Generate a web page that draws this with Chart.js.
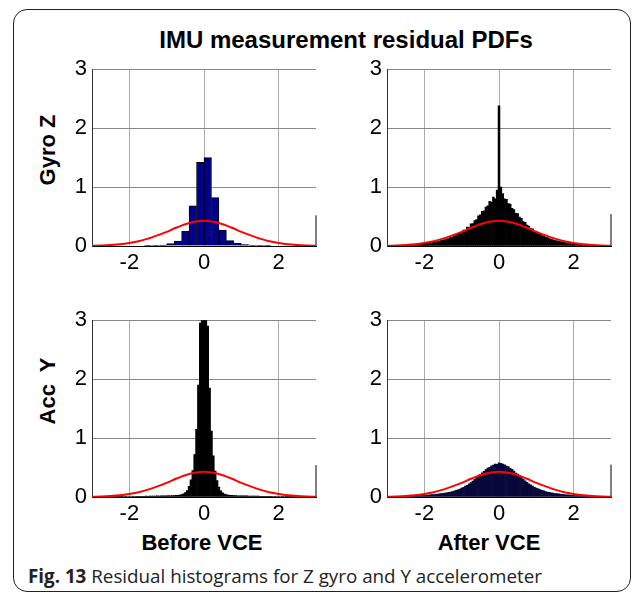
<!DOCTYPE html>
<html>
<head>
<meta charset="utf-8">
<script src="https://cdn.jsdelivr.net/npm/chart.js@4.4.1/dist/chart.umd.min.js"></script>
<style>
  html, body { margin: 0; padding: 0; background: #fff; }
  #page { position: relative; width: 637px; height: 594px; overflow: hidden; font-family: 'Liberation Sans', Arial, sans-serif; }
  #frame { position: absolute; left: 13px; top: 9px; width: 616px; height: 581px; border: 1.5px solid #222; border-radius: 14px; }
  canvas { position: absolute; }
  .lbl { position: absolute; white-space: pre; font-weight: bold; color: #000; transform: translate(-50%, -50%); }
  .ylbl { transform: translate(-50%, -50%) rotate(-90deg); }
  #caption { position: absolute; left: 28px; top: 563px; font-family: 'Open Sans', sans-serif; font-size: 18.8px; color: #222; white-space: pre; }
</style>
</head>
<body>
<div id="page">
  <div id="frame"></div>
  <div class="lbl" style="left:346px;top:40px;font-size:24px">IMU measurement residual PDFs</div>
  <div class="lbl ylbl" style="left:48px;top:150px;font-size:22px">Gyro Z</div>
  <div class="lbl ylbl" style="left:48px;top:391px;font-size:22px">Acc  Y</div>
  <div class="lbl" style="left:202px;top:543px;font-size:22px">Before VCE</div>
  <div class="lbl" style="left:489px;top:543px;font-size:22px">After VCE</div>
  <div id="caption"><b>Fig. 13</b> Residual histograms for Z gyro and Y accelerometer</div>
  <canvas id="gyroBefore" width="272" height="225" style="left:52px;top:51px"></canvas>
  <canvas id="gyroAfter" width="272" height="225" style="left:347px;top:51px"></canvas>
  <canvas id="accBefore" width="272" height="225" style="left:52px;top:302px"></canvas>
  <canvas id="accAfter" width="272" height="225" style="left:347px;top:302px"></canvas>
</div>
<script>
// axis ticks
const xTicks = [-2, 0, 2];
const yTicks = [0, 1, 2, 3];

// bin centres: 0.2 wide for the gyro "before" plot, 0.05 wide for the others
const coarseBins = Array.from({ length: 30 }, (_, i) => (2 * i - 29) / 10);
const fineBins = Array.from({ length: 121 }, (_, i) => (i - 60) / 20);

// Gyro Z, before VCE
const gyroBefore = [0, 0, 0, 0, 0, 0, 0, 0.002, 0.006, 0.015, 0.04, 0.085, 0.25, 0.68, 1.42,
  1.50, 0.82, 0.27, 0.09, 0.045, 0.025, 0.012, 0.005, 0.002, 0, 0, 0, 0, 0, 0];

// Gyro Z, after VCE
const gyroAfter = [
  0.006, 0.005, 0.007, 0.006, 0.008, 0.009, 0.008, 0.011, 0.012, 0.014,
  0.013, 0.017, 0.019, 0.018, 0.023, 0.025, 0.028, 0.027, 0.034, 0.036,
  0.041, 0.044, 0.048, 0.055, 0.058, 0.066, 0.07, 0.075, 0.084, 0.09,
  0.1, 0.108, 0.121, 0.128, 0.146, 0.152, 0.171, 0.18, 0.2, 0.215,
  0.23, 0.27, 0.265, 0.32, 0.315, 0.375, 0.38, 0.43, 0.45, 0.51,
  0.53, 0.59, 0.595, 0.66, 0.68, 0.76, 0.745, 0.83, 0.8, 0.95,
  2.38,
  1.0, 0.89, 0.8, 0.79, 0.72, 0.71, 0.64, 0.62, 0.555, 0.55,
  0.49, 0.47, 0.415, 0.4, 0.355, 0.34, 0.295, 0.29, 0.25, 0.245,
  0.21, 0.205, 0.178, 0.168, 0.15, 0.142, 0.125, 0.118, 0.104, 0.098,
  0.088, 0.082, 0.074, 0.068, 0.062, 0.056, 0.052, 0.046, 0.043, 0.039,
  0.035, 0.032, 0.028, 0.027, 0.023, 0.021, 0.019, 0.017, 0.015, 0.014,
  0.012, 0.011, 0.01, 0.009, 0.008, 0.007, 0.007, 0.006, 0.005, 0.005];

// Acc Y, before VCE
const accBefore = [
  0.003, 0.002, 0.003, 0.003, 0.004, 0.003, 0.004, 0.005, 0.004, 0.005,
  0.005, 0.006, 0.005, 0.006, 0.007, 0.006, 0.007, 0.008, 0.007, 0.008,
  0.009, 0.008, 0.01, 0.009, 0.011, 0.01, 0.012, 0.013, 0.012, 0.014,
  0.013, 0.015, 0.016, 0.015, 0.017, 0.018, 0.017, 0.019, 0.02, 0.019,
  0.021, 0.022, 0.021, 0.024, 0.025, 0.028, 0.03, 0.034, 0.04, 0.052,
  0.075, 0.11, 0.18, 0.29, 0.45, 0.72, 1.15, 1.9, 2.95, 4.6,
  6.5,
  4.5, 2.9, 1.85, 1.12, 0.7, 0.44, 0.28, 0.17, 0.105, 0.072,
  0.05, 0.039, 0.033, 0.029, 0.027, 0.024, 0.023, 0.021, 0.02, 0.021,
  0.019, 0.018, 0.019, 0.017, 0.016, 0.017, 0.015, 0.014, 0.015, 0.013,
  0.012, 0.013, 0.011, 0.012, 0.01, 0.011, 0.009, 0.01, 0.008, 0.009,
  0.008, 0.007, 0.008, 0.006, 0.007, 0.006, 0.005, 0.006, 0.005, 0.004,
  0.005, 0.004, 0.004, 0.003, 0.004, 0.003, 0.003, 0.002, 0.003, 0.002];

// Acc Y, after VCE
const accAfter = [
  0.004, 0.005, 0.005, 0.006, 0.006, 0.007, 0.008, 0.008, 0.01, 0.011,
  0.012, 0.013, 0.014, 0.016, 0.017, 0.019, 0.02, 0.022, 0.025, 0.026,
  0.029, 0.031, 0.033, 0.036, 0.039, 0.042, 0.046, 0.049, 0.053, 0.057,
  0.062, 0.066, 0.072, 0.079, 0.085, 0.093, 0.101, 0.112, 0.122, 0.135,
  0.15, 0.166, 0.184, 0.2, 0.222, 0.245, 0.27, 0.298, 0.33, 0.355,
  0.385, 0.41, 0.435, 0.465, 0.49, 0.505, 0.53, 0.54, 0.56, 0.555,
  0.58,
  0.57, 0.56, 0.545, 0.525, 0.515, 0.485, 0.47, 0.44, 0.405, 0.39,
  0.36, 0.34, 0.3, 0.275, 0.25, 0.225, 0.205, 0.186, 0.165, 0.15,
  0.138, 0.124, 0.112, 0.103, 0.094, 0.085, 0.078, 0.071, 0.066, 0.06,
  0.056, 0.052, 0.048, 0.045, 0.041, 0.038, 0.036, 0.033, 0.031, 0.028,
  0.026, 0.024, 0.022, 0.02, 0.019, 0.017, 0.016, 0.014, 0.013, 0.012,
  0.011, 0.01, 0.009, 0.008, 0.007, 0.007, 0.006, 0.005, 0.005, 0.004];

// overflow bin drawn at the right edge (x = 3)
const edgeBin = [0.52, 0.54, 0.54, 0.55];

// fitted normal PDF (red curve)
const pdfX = [-3, -2.75, -2.5, -2.25, -2, -1.75, -1.5, -1.25, -1, -0.75, -0.5, -0.25, 0,
  0.25, 0.5, 0.75, 1, 1.25, 1.5, 1.75, 2, 2.25, 2.5, 2.75, 3];
const pdfY = [0.003, 0.007, 0.015, 0.028, 0.05, 0.08, 0.125, 0.18, 0.24, 0.31, 0.37, 0.41, 0.43,
  0.41, 0.37, 0.31, 0.24, 0.18, 0.125, 0.08, 0.05, 0.028, 0.015, 0.007, 0.003];

const tickFont = { family: 'Liberation Sans', size: 22 };

function subplot(id, bins, values, fill, edge, border) {
  new Chart(document.getElementById(id), {
    type: 'bar',
    data: {
      datasets: [
        {
          type: 'line',
          data: pdfX.map((x, i) => ({ x: x, y: pdfY[i] })),
          borderColor: '#ff0000',
          borderWidth: 2,
          pointRadius: 0,
          cubicInterpolationMode: 'monotone',
          order: 0
        },
        {
          type: 'line',
          data: [{ x: 3, y: 0 }, { x: 3, y: edge }],
          borderColor: '#000',
          borderWidth: 1,
          pointRadius: 0,
          clip: false,
          order: 1
        },
        {
          data: bins.map((x, i) => ({ x: x, y: values[i] })),
          backgroundColor: fill,
          borderColor: '#000',
          borderWidth: border,
          borderSkipped: 'start',
          barPercentage: 1,
          categoryPercentage: 1,
          clip: 0,
          order: 2
        }
      ]
    },
    options: {
      responsive: false,
      animation: false,
      events: [],
      layout: { padding: { top: 14, right: 8, left: 0, bottom: 0 } },
      plugins: { legend: { display: false }, tooltip: { enabled: false } },
      scales: {
        x: {
          type: 'linear',
          min: -3,
          max: 3,
          offset: false,
          afterFit: s => { s.height = 30; },
          afterBuildTicks: s => { s.ticks = xTicks.map(v => ({ value: v })); },
          ticks: { font: tickFont, color: '#000', padding: 4, maxRotation: 0, callback: v => String(v) },
          grid: { color: '#ababab', drawTicks: false, offset: false },
          border: { color: '#000', width: 1 }
        },
        y: {
          min: 0,
          max: 3,
          afterFit: s => { s.width = 40; },
          afterBuildTicks: s => { s.ticks = yTicks.map(v => ({ value: v })); },
          ticks: { font: tickFont, color: '#000', padding: 5, callback: v => String(v) },
          grid: { color: '#888888', drawTicks: false },
          border: { color: '#333', width: 1 }
        }
      }
    }
  });
}

subplot('gyroBefore', coarseBins, gyroBefore, '#00008f', edgeBin[0], 1);
subplot('gyroAfter', fineBins, gyroAfter, '#000000', edgeBin[1], 0);
subplot('accBefore', fineBins, accBefore, '#000000', edgeBin[2], 0);
subplot('accAfter', fineBins, accAfter, '#07073a', edgeBin[3], 0);
</script>
</body>
</html>
